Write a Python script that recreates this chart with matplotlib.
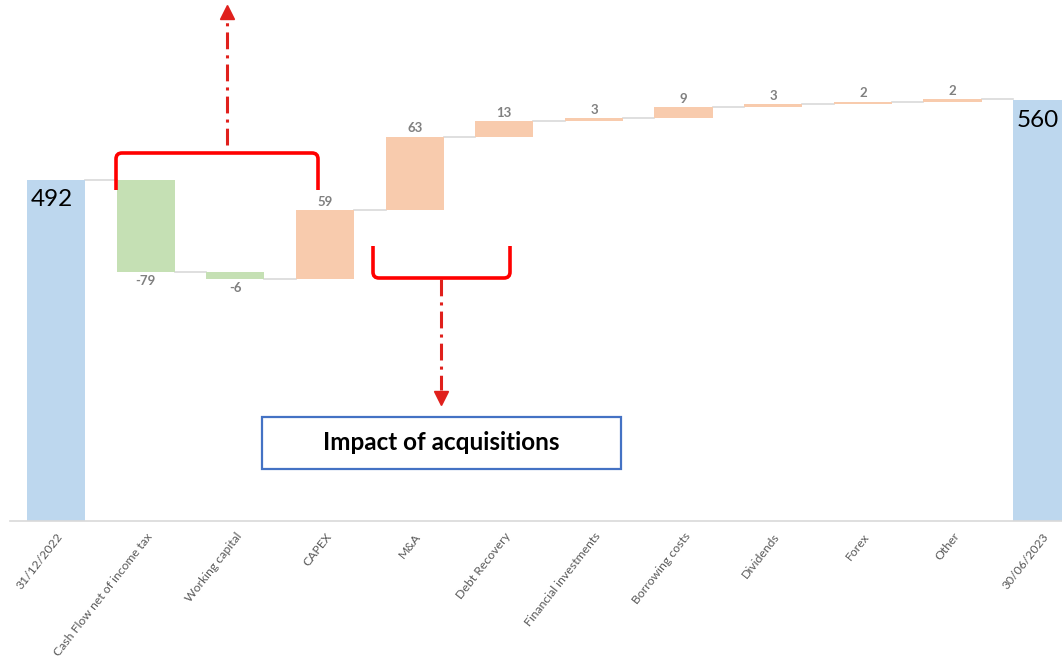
import numpy as np
import matplotlib
matplotlib.use("Agg")
import matplotlib.pyplot as plt
from matplotlib.path import Path
from matplotlib.patches import PathPatch, Rectangle

plt.rcParams['font.family'] = ['Lato', 'DejaVu Sans']

categories = ['31/12/2022', 'Cash Flow net of income tax', 'Working capital', 'CAPEX', 'M&A',
              'Debt Recovery', 'Financial investments', 'Borrowing costs', 'Dividends', 'Forex',
              'Other', '30/06/2023']
start_total = 492
end_total = 560
changes = [-79, -6, 59, 63, 13, 3, 9, 3, 2, 2]

blue = '#BDD7EE'
green = '#C5E0B4'
orange = '#F8CBAD'
grey_line = '#D9D9D9'

W, H = 1062, 664
fig = plt.figure(figsize=(W / 100, H / 100), dpi=100)
ax = fig.add_axes([10 / W, 1 - 521 / H, 1052 / W, 521 / H])

ymin = 200
x = np.arange(len(categories))
bw = 0.65

# totals
ax.bar(x[0], start_total - ymin, bottom=ymin, width=bw, color=blue, zorder=2)
ax.bar(x[-1], end_total - ymin, bottom=ymin, width=bw, color=blue, zorder=2)

level = start_total
levels = [level]
for i, c in enumerate(changes):
    xi = x[i + 1]
    col = green if c < 0 else orange
    ax.bar(xi, c, bottom=level, width=bw, color=col, zorder=2)
    new = level + c
    if c < 0:
        ax.text(xi, new - 2, str(c), ha='center', va='top', fontsize=9.5,
                color='#808080', fontweight='bold')
    else:
        ax.text(xi, new + 2, str(c), ha='center', va='bottom', fontsize=9.5,
                color='#808080', fontweight='bold')
    level = new
    levels.append(level)
levels.append(end_total)

# connectors
for i in range(len(levels) - 1):
    ax.plot([x[i] + bw / 2, x[i + 1] - bw / 2], [levels[i], levels[i]],
            color=grey_line, lw=1.2, zorder=1)

ax.text(x[0] - 0.05, start_total - 8, str(start_total), ha='center', va='top', fontsize=17.5, color='black')
ax.text(x[-1] - 0.05, end_total - 8, str(end_total), ha='center', va='top', fontsize=17.5, color='black')

ax.set_xlim(-0.513, 11.22)
ax.set_ylim(ymin, 646)
for s in ['top', 'right', 'left']:
    ax.spines[s].set_visible(False)
ax.spines['bottom'].set_color(grey_line)
ax.spines['bottom'].set_linewidth(1.2)
ax.set_yticks([])
ax.set_xticks(x)
ax.set_xticklabels(categories, rotation=52, ha='right', rotation_mode='anchor',
                   fontsize=8.8, color='#595959')
ax.tick_params(axis='x', length=0, pad=7)

# annotation overlay in pixel coordinates
ov = fig.add_axes([0, 0, 1, 1])
ov.set_xlim(0, W)
ov.set_ylim(H, 0)
ov.axis('off')
ov.patch.set_alpha(0)

def brace(x0, x1, yend, ybar, r=6):
    d = 1 if ybar > yend else -1
    verts = [(x0, yend), (x0, ybar - d * r), (x0, ybar), (x0 + r, ybar),
             (x1 - r, ybar), (x1, ybar), (x1, ybar - d * r), (x1, yend)]
    codes = [Path.MOVETO, Path.LINETO, Path.CURVE3, Path.CURVE3,
             Path.LINETO, Path.CURVE3, Path.CURVE3, Path.LINETO]
    ov.add_patch(PathPatch(Path(verts, codes), fill=False, edgecolor='#FF0000',
                           lw=2.6, capstyle='butt'))

brace(116, 318, 190, 153)
brace(373, 510, 246, 278)

red2 = '#E0201C'
dash = (0, (5.5, 2, 1, 2))
ov.plot([227, 227], [145, 20], color=red2, lw=2.2, linestyle=dash, dash_capstyle='butt')
ov.plot([227], [12], marker='^', markersize=10, color=red2)
ov.plot([441, 441], [279, 390], color=red2, lw=2.2, linestyle=dash, dash_capstyle='butt')
ov.plot([441], [398], marker='v', markersize=10, color=red2)

ov.add_patch(Rectangle((262, 417), 359, 52, fill=False, edgecolor='#4472C4', lw=1.6))
ov.text(441, 443, 'Impact of acquisitions', ha='center', va='center',
        fontsize=17.5, fontweight='bold', color='black')

fig.savefig('out.png', dpi=100)
